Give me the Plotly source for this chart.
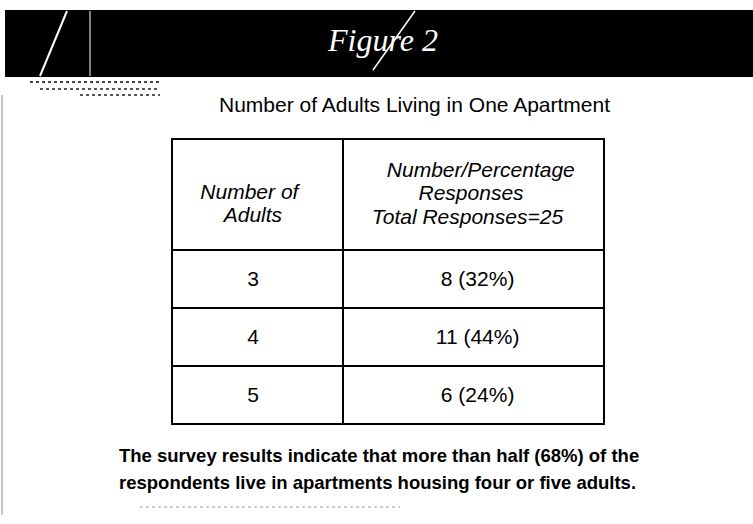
import plotly.graph_objects as go

# ---- data ----
figure_label = "Figure 2"
title_text = "Number of Adults Living in One Apartment"
col_headers = [["Number of", "Adults"], ["Number/Percentage", "Responses", "Total Responses=25"]]
num_adults = [3, 4, 5]
num_responses = [8, 11, 6]
pct_responses = [32, 44, 24]
caption_lines = [
    "The survey results indicate that more than half (68%) of the",
    "respondents live in apartments housing four or five adults.",
]

W, H = 753, 524
FONT = "Liberation Sans, Arial, sans-serif"
NB = "\u00a0"


def span(s, size):
    return "<span style='font-size:%dpx'>%s</span>" % (size, s)


def strut(size):
    # invisible spacer that sets the height of the first text line in a cell
    return span(NB, size)


TXT = 21
# left header: "Number of" / "Adults", lines centred by leading padding
hdr_left = (span("<i>%s</i>" % col_headers[0][0], TXT) + strut(57) + "<br>"
            + span("<i>%s%s</i>" % (NB * 4, col_headers[0][1]), TXT))
# right header: three lines
hdr_right = (strut(33) + span("<i>%s%s</i>" % (NB * 1, col_headers[1][0]), TXT) + "<br>"
             + span("<i>%s%s</i>" % (NB * 8, col_headers[1][1]), TXT) + "<br>"
             + span("<i>%s</i>" % col_headers[1][2], TXT))

# trailing <br> keeps plotly from re-wrapping the marked-up text
col1 = [span(str(a), TXT) + strut(31) + "<br>" for a in num_adults]
col2 = [strut(31) + span("%d%s(%d%%)" % (n, NB, p), TXT) + "<br>" for n, p in zip(num_responses, pct_responses)]

fig = go.Figure()
fig.add_trace(go.Table(
    domain=dict(x=[172 / W, 605 / W], y=[0, 1 - 139 / H]),
    columnwidth=[171, 262],
    header=dict(
        values=[hdr_left, hdr_right],
        height=111,
        align="center",
        fill_color="white",
        line=dict(color="black", width=2),
        font=dict(family=FONT, size=18, color="black"),
    ),
    cells=dict(
        values=[col1, col2],
        height=58,
        align="center",
        fill_color="white",
        line=dict(color="black", width=2),
        font=dict(family=FONT, size=18, color="black"),
    ),
))

shapes = [
    # dark header band
    dict(type="rect", xref="paper", yref="paper", x0=5 / W, x1=1, y0=1 - 77 / H, y1=1 - 10 / H,
         fillcolor="black", line=dict(width=0), layer="below"),
    # white scratches across the band
    dict(type="line", xref="paper", yref="paper", x0=40 / W, y0=1 - 76 / H, x1=67 / W, y1=1 - 11 / H,
         line=dict(color="white", width=2)),
    dict(type="line", xref="paper", yref="paper", x0=90 / W, y0=1 - 76 / H, x1=90 / W, y1=1 - 11 / H,
         line=dict(color="white", width=1)),
    dict(type="line", xref="paper", yref="paper", x0=373 / W, y0=1 - 70 / H, x1=415 / W, y1=1 - 11 / H,
         line=dict(color="white", width=1.5)),
    # faint scan marks
    dict(type="line", xref="paper", yref="paper", x0=2 / W, y0=1 - 95 / H, x1=2 / W, y1=1 - 515 / H,
         line=dict(color="#888", width=1)),
    dict(type="line", xref="paper", yref="paper", x0=30 / W, y0=1 - 82 / H, x1=160 / W, y1=1 - 82 / H,
         line=dict(color="#444", width=2, dash="dot")),
    dict(type="line", xref="paper", yref="paper", x0=40 / W, y0=1 - 89 / H, x1=160 / W, y1=1 - 89 / H,
         line=dict(color="#555", width=2, dash="dot")),
    dict(type="line", xref="paper", yref="paper", x0=80 / W, y0=1 - 95 / H, x1=160 / W, y1=1 - 95 / H,
         line=dict(color="#555", width=2, dash="dot")),
    dict(type="line", xref="paper", yref="paper", x0=140 / W, y0=1 - 507 / H, x1=400 / W, y1=1 - 507 / H,
         line=dict(color="#999", width=1, dash="dot")),
]

annotations = [
    dict(text="<i>%s</i>" % figure_label, x=382 / W, y=1 - 40 / H, xref="paper", yref="paper",
         showarrow=False, xanchor="center", yanchor="middle",
         font=dict(family="Liberation Serif, Times New Roman, serif", size=32, color="white")),
    dict(text=title_text, x=415 / W, y=1 - 105 / H, xref="paper", yref="paper",
         showarrow=False, xanchor="center", yanchor="middle",
         font=dict(family=FONT, size=21, color="black")),
    dict(text="<b>%s</b>" % caption_lines[0], x=379 / W, y=1 - 455 / H, xref="paper", yref="paper",
         showarrow=False, xanchor="center", yanchor="middle",
         font=dict(family=FONT, size=18.5, color="black")),
    dict(text="<b>%s</b>" % caption_lines[1], x=377 / W, y=1 - 482 / H, xref="paper", yref="paper",
         showarrow=False, xanchor="center", yanchor="middle",
         font=dict(family=FONT, size=18.5, color="black")),
]

fig.update_layout(
    width=W, height=H,
    margin=dict(l=0, r=0, t=0, b=0),
    paper_bgcolor="white",
    plot_bgcolor="white",
    shapes=shapes,
    annotations=annotations,
    showlegend=False,
)

fig.write_html("out.html", config={"displayModeBar": False},
               post_script="document.body.style.margin='0';")
